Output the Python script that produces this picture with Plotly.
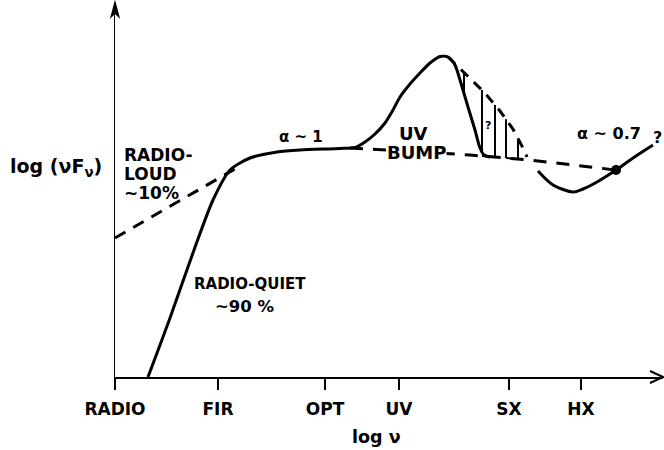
import numpy as np
import plotly.graph_objects as go

# ---- data (x: log nu, arbitrary units with RADIO = 0; y: log nuFnu, arbitrary units) ----
band_labels = ["RADIO", "FIR", "OPT", "UV", "SX", "HX"]
band_pos = [0.0, 10.3, 21.0, 28.4, 39.4, 46.6]

# radio-quiet continuum + UV bump (solid)
quiet_x = [3.3, 5.5, 7.9, 9.8, 11.5, 13.5, 16.2, 18.5, 22.5, 24.0, 25.0, 26.0,
           27.0, 27.8, 28.5, 29.5, 30.5, 31.5, 32.5, 33.3, 34.0, 34.5, 35.3,
           36.0, 36.5, 36.9, 37.5]
quiet_y = [0.0, 5.9, 12.7, 17.7, 20.7, 21.9, 22.5, 22.7, 22.85, 22.95, 23.5, 24.3,
           25.4, 26.7, 28.0, 29.3, 30.4, 31.4, 32.05, 32.0, 31.2, 29.7, 27.0,
           24.7, 22.9, 22.2, 22.0]

# X-ray part (solid)
xray_x = [42.3, 43.8, 45.8, 46.8, 48.2, 50.1, 51.8, 53.8]
xray_y = [20.6, 19.2, 18.5, 18.8, 19.5, 20.7, 21.9, 23.2]

# radio-loud extension (dashed)
loud_x = [0.0, 12.5]
loud_y = [13.9, 21.1]

# underlying power law below the UV bump (dashed)
base_x = [23.5, 35.5, 41.5, 50.1]
base_y = [22.9, 22.2, 21.7, 20.7]

# possible soft X-ray excess upper envelope (dashed)
excess_x = [33.3, 35.3, 36.9, 38.5, 39.8, 40.9, 41.2]
excess_y = [32.0, 30.1, 28.5, 26.6, 24.8, 22.7, 22.0]

# hatching positions inside the soft-excess region
hatch_x = [34.9, 36.7, 38.0, 39.1, 40.3]
hatch_floor = [(36.7, 38.0), (39.1, 40.3)]

# alpha ~ 0.7 point
dot_x = [50.1]
dot_y = [20.7]

INK = "black"
FONT = "DejaVu Sans"
W, H = 664, 450
ML, MR, MT, MB = 115, 1, 3, 73
PW, PH = W - ML - MR, H - MT - MB

fig = go.Figure()

fig.add_trace(go.Scatter(x=quiet_x, y=quiet_y, mode="lines",
                         line=dict(color=INK, width=3, shape="spline", smoothing=0.7)))
fig.add_trace(go.Scatter(x=xray_x, y=xray_y, mode="lines",
                         line=dict(color=INK, width=3, shape="spline", smoothing=0.8)))
fig.add_trace(go.Scatter(x=loud_x, y=loud_y, mode="lines",
                         line=dict(color=INK, width=3, dash="12px,9px")))
fig.add_trace(go.Scatter(x=base_x, y=base_y, mode="lines",
                         line=dict(color=INK, width=3, dash="13px,10px")))
fig.add_trace(go.Scatter(x=excess_x, y=excess_y, mode="lines",
                         line=dict(color=INK, width=3, dash="10px,8px")))

# hatching: vertical lines from the envelope down to the continuum
hx, hy = [], []
for xv in hatch_x:
    top = float(np.interp(xv, excess_x, excess_y))
    bot = max(float(np.interp(xv, base_x, base_y)),
              float(np.interp(xv, quiet_x, quiet_y, right=-1)))
    hx += [xv, xv, None]
    hy += [top, bot, None]
for a, b in hatch_floor:
    hx += [a, b, None]
    hy += [float(np.interp(a, base_x, base_y)), float(np.interp(b, base_x, base_y)), None]
fig.add_trace(go.Scatter(x=hx, y=hy, mode="lines", line=dict(color=INK, width=2)))

fig.add_trace(go.Scatter(x=dot_x, y=dot_y, mode="markers",
                         marker=dict(color=INK, size=10)))


def note(text, x, y, size=17, xanchor="center", xref="x", yref="y", bg=None):
    fig.add_annotation(text=text, x=x, y=y, xref=xref, yref=yref, showarrow=False,
                       xanchor=xanchor, yanchor="middle", bgcolor=bg, borderpad=0,
                       font=dict(family=FONT, size=size, color=INK, weight="bold"))


note("log (\u03bdF<sub>\u03bd</sub>)", -0.107, 21.0, size=19, xref="paper")
note("RADIO-", 0.8, 22.2, size=17, xanchor="left")
note("LOUD", 0.8, 20.3, size=17, xanchor="left")
note("~10%", 0.8, 18.4, size=17, xanchor="left")
note("\u03b1 ~ 1", 18.6, 24.0, size=15)
note("UV", 29.8, 24.4, size=18)
note("BUMP", 30.1, 22.5, size=18, bg="white")
note("RADIO-QUIET", 7.8, 9.3, size=15, xanchor="left")
note("~90 %", 13.0, 7.1, size=16.5)
note("\u03b1 ~ 0.7", 49.4, 24.4, size=16)
note("?", 54.2, 24.0, size=16)
note("?", 37.3, 25.2, size=11)
note("log \u03bd", 26.1, -0.160, size=17.5, yref="paper")

# axis arrowheads (paper-referenced paths, sized in pixels)
def px(dx):
    return dx / PW

def py(dy):
    return dy / PH

fig.add_shape(type="path", xref="paper", yref="paper",
              path=(f"M {1 - px(13)},{py(6)} L 1,0 L {1 - px(13)},{-py(6)}"),
              line=dict(color=INK, width=2))
fig.add_shape(type="path", xref="paper", yref="paper",
              path=(f"M {-px(4)},{1 - py(14)} L 0,{1 + py(1)} L {px(4)},{1 - py(14)} "
                    f"L 0,{1 - py(10)} Z"),
              fillcolor=INK, line=dict(color=INK, width=1.2))
# y-axis stub below the x-axis
fig.add_shape(type="line", xref="paper", yref="paper", x0=0, x1=0, y0=-py(11), y1=0,
              line=dict(color=INK, width=1.5))

fig.update_layout(
    width=W, height=H,
    margin=dict(l=ML, r=MR, t=MT, b=MB),
    paper_bgcolor="white", plot_bgcolor="white",
    showlegend=False,
    xaxis=dict(range=[0, 54.8], showgrid=False, zeroline=False, showline=True,
               linecolor=INK, linewidth=1.5, ticks="outside", ticklen=11,
               tickwidth=1.5, tickcolor=INK, tickvals=band_pos, ticktext=band_labels,
               ticklabelstandoff=5,
               tickfont=dict(family=FONT, size=17, color=INK, weight="bold"),
               fixedrange=True),
    yaxis=dict(range=[0, 37.4], showgrid=False, zeroline=False, showline=True,
               linecolor=INK, linewidth=1.5, showticklabels=False, ticks="",
               fixedrange=True),
)

fig.write_html("out.html", config={"staticPlot": True},
               post_script="document.body.style.margin='0px';")
